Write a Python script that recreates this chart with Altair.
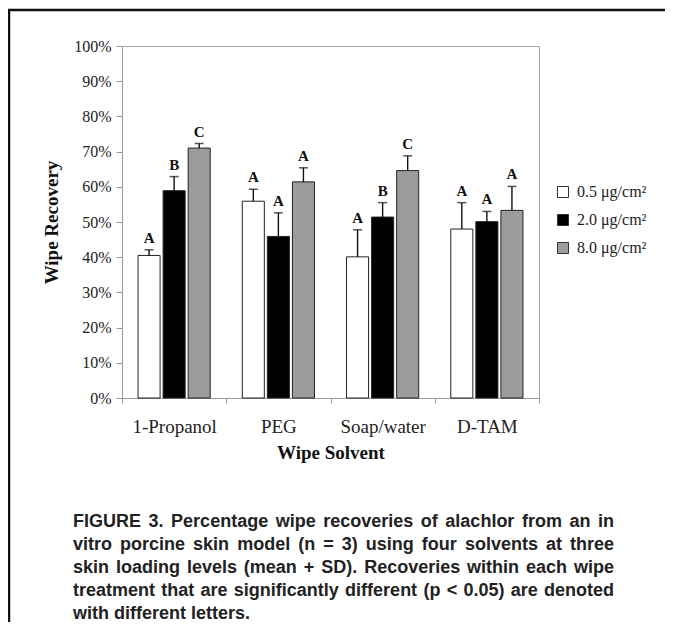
import altair as alt
import pandas as pd

solvents = ["1-Propanol", "PEG", "Soap/water", "D-TAM"]
levels = ["0.5 μg/cm²", "2.0 μg/cm²", "8.0 μg/cm²"]
level_colors = ["#ffffff", "#000000", "#9c9c9c"]

mean_05 = [40.5, 55.9, 40.1, 48.0]
mean_20 = [58.9, 45.9, 51.4, 50.1]
mean_80 = [71.0, 61.4, 64.6, 53.3]
sd_05 = [1.6, 3.4, 7.7, 7.5]
sd_20 = [4.0, 6.7, 4.1, 2.9]
sd_80 = [1.3, 4.0, 4.2, 6.8]
let_05 = ["A", "A", "A", "A"]
let_20 = ["B", "A", "B", "A"]
let_80 = ["C", "A", "C", "A"]

y_ticks = [0, 10, 20, 30, 40, 50, 60, 70, 80, 90, 100]

caption_lines = [
    "FIGURE 3. Percentage wipe recoveries of alachlor from an in",
    "vitro porcine skin model (n = 3) using four solvents at three",
    "skin loading levels (mean + SD). Recoveries within each wipe",
    "treatment that are significantly different (p < 0.05) are denoted",
    "with different letters.",
]

rows = []
for lev, means, sds, lets in [
    (levels[0], mean_05, sd_05, let_05),
    (levels[1], mean_20, sd_20, let_20),
    (levels[2], mean_80, sd_80, let_80),
]:
    for s, m, sd, l in zip(solvents, means, sds, lets):
        rows.append({"solvent": s, "level": lev, "mean": m, "top": m + sd, "letter": l})
df = pd.DataFrame(rows)

W, H = 417, 352
SERIF = "Liberation Serif"

# ---- caption layout: justified text (Liberation Sans Bold advance widths, per 1000 em)
_widths = {" ": 278, "(": 333, ")": 333, "+": 584, ",": 278, "-": 333, ".": 278, "/": 278,
           "<": 584, "=": 584, ">": 584}
for ch in "0123456789":
    _widths[ch] = 556
_widths.update(dict(zip("ABCDEFGHIJKLMNOPQRSTUVWXYZ",
                        [722, 722, 722, 722, 667, 611, 778, 722, 278, 556, 722, 611, 833,
                         722, 778, 667, 778, 722, 667, 611, 722, 667, 944, 667, 667, 611])))
_widths.update(dict(zip("abcdefghijklmnopqrstuvwxyz",
                        [556, 611, 556, 611, 556, 333, 611, 611, 278, 278, 556, 278, 889,
                         611, 611, 611, 611, 389, 556, 333, 611, 556, 778, 556, 556, 500])))
CAP_FS = 18
CAP_LEFT, CAP_RIGHT = -49, 492   # relative to plot origin
CAP_TOP, CAP_LH = 476, 23


def word_w(w):
    return sum(_widths.get(c, 556) for c in w) * CAP_FS / 1000.0


cap_rows = []
for i, line in enumerate(caption_lines):
    words = line.split(" ")
    yy = CAP_TOP + i * CAP_LH
    if i < len(caption_lines) - 1 and len(words) > 1:
        total = sum(word_w(w) for w in words)
        gap = (CAP_RIGHT - CAP_LEFT - total) / (len(words) - 1)
    else:
        gap = _widths[" "] * CAP_FS / 1000.0
    xx = CAP_LEFT
    for w in words:
        cap_rows.append({"word": w, "px": xx, "py": yy})
        xx += word_w(w) + gap
cap_df = pd.DataFrame(cap_rows)

x_enc = alt.X(
    "solvent:N",
    sort=solvents,
    scale=alt.Scale(paddingInner=0, paddingOuter=0),
    axis=alt.Axis(
        title="Wipe Solvent",
        labelAngle=0,
        tickBand="extent",
        tickSize=5,
        labelPadding=14,
        labelFont=SERIF,
        labelFontSize=19,
        labelColor="#222",
        titleFont=SERIF,
        titleFontSize=19,
        titleFontWeight="bold",
        titleColor="#111",
        titlePadding=7,
    ),
)
xo_enc = alt.XOffset("level:N", sort=levels, scale=alt.Scale(paddingInner=0.12, paddingOuter=0.64))
y_scale = alt.Scale(domain=[0, 100], nice=False)
y_axis = alt.Axis(
    title="Wipe Recovery",
    values=y_ticks,
    labelExpr="datum.value + '%'",
    labelOverlap=False,
    tickSize=6,
    labelPadding=5,
    labelFont=SERIF,
    labelFontSize=16,
    labelColor="#222",
    titleFont=SERIF,
    titleFontSize=19,
    titleFontWeight="bold",
    titleColor="#111",
    titlePadding=12,
    grid=False,
)

base = alt.Chart(df)

bars = base.mark_bar(stroke="#222", strokeWidth=1).encode(
    x=x_enc,
    xOffset=xo_enc,
    y=alt.Y("mean:Q", scale=y_scale, axis=y_axis),
    color=alt.Color(
        "level:N",
        sort=levels,
        scale=alt.Scale(domain=levels, range=level_colors),
        legend=alt.Legend(
            title=None,
            orient="none",
            legendX=433,
            legendY=138,
            symbolType="square",
            symbolSize=121,
            symbolStrokeColor="#333",
            symbolStrokeWidth=1,
            symbolFillColor="#fff",
            labelFont=SERIF,
            labelFontSize=16,
            labelColor="#222",
            labelOffset=6,
            rowPadding=12,
        ),
    ),
)

err = base.mark_rule(color="#111", strokeWidth=1.4).encode(
    x=x_enc, xOffset=xo_enc,
    y=alt.Y("mean:Q", scale=y_scale, axis=y_axis), y2="top:Q"
)
caps = base.mark_tick(color="#111", thickness=1.5, size=9, orient="horizontal").encode(
    x=x_enc, xOffset=xo_enc, y=alt.Y("top:Q", scale=y_scale, axis=y_axis)
)
letters = base.mark_text(
    font=SERIF, fontSize=15, fontWeight="bold", baseline="bottom", dy=-4, color="#111"
).encode(x=x_enc, xOffset=xo_enc, y=alt.Y("top:Q", scale=y_scale, axis=y_axis), text="letter:N")

frame_left = alt.Chart(pd.DataFrame({"k": [0]})).mark_rule(color="#111", strokeWidth=2.5).encode(
    x=alt.value(-113), y=alt.value(-37), y2=alt.value(580)
)
frame_top = alt.Chart(pd.DataFrame({"k": [0]})).mark_rule(color="#111", strokeWidth=2.5).encode(
    x=alt.value(-114), x2=alt.value(545), y=alt.value(-36)
)
caption = alt.Chart(cap_df).mark_text(
    font="Liberation Sans",
    fontSize=CAP_FS,
    fontWeight="bold",
    align="left",
    baseline="middle",
    color="#222",
).encode(
    x=alt.X("px:Q", scale=None),
    y=alt.Y("py:Q", scale=None),
    text="word:N",
)

chart = (
    alt.layer(bars, err, caps, letters, frame_left, frame_top, caption)
    .properties(
        width=W,
        height=H,
        autosize=alt.AutoSizeParams(type="none"),
        padding={"left": 114, "top": 38, "right": 126, "bottom": 224},
    )
    .configure_view(stroke="#aaa", strokeWidth=1)
    .configure_axis(domainColor="#999", tickColor="#999")
)

chart.save("out.html", embed_options={"renderer": "svg", "actions": False})
